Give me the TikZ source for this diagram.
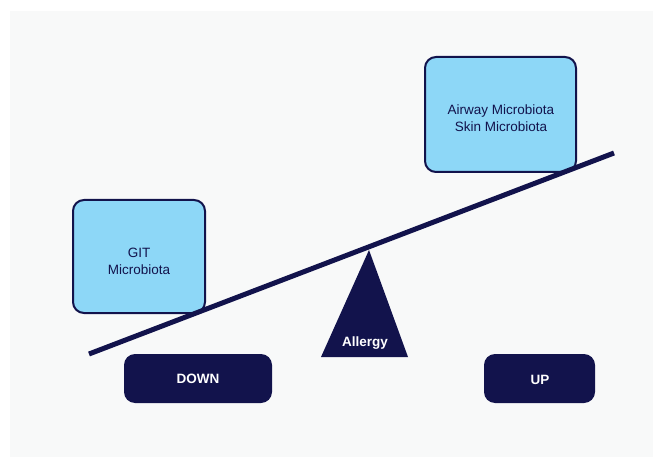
\documentclass[tikz,border=0pt]{standalone}
\usepackage{fontspec}
\setmainfont{Liberation Sans}
\definecolor{navy}{HTML}{12134C}
\definecolor{skyb}{HTML}{8DD7F7}
\definecolor{bg}{HTML}{F8F9F9}
\begin{document}
\begin{tikzpicture}[x=1pt,y=-1pt,
  microbox/.style={draw=navy,line width=2pt,fill=skyb,rounded corners=11pt,text=navy,align=center,font=\fontsize{13.5}{17}\selectfont},
  levelbox/.style={fill=navy,rounded corners=11pt,text=white,font=\bfseries\fontsize{13.5}{16}\selectfont},
  beam/.style={draw=navy,line width=5pt}]
\useasboundingbox (0,0) rectangle (653,457);
\fill[bg] (10,11) rectangle (653,457);
% boxes
\draw[microbox] (73,200) rectangle (205,313);
\node[text=navy,align=center,font=\fontsize{13.5}{17}\selectfont] (git) at (139,261) {GIT\\Microbiota};
\draw[microbox] (425,57) rectangle (576,172);
\node[text=navy,align=center,font=\fontsize{13.5}{17}\selectfont] (air) at (501,118) {Airway Microbiota\\Skin Microbiota};
% fulcrum
\coordinate (apex) at (369,250);
\coordinate (bl) at (321,357);
\coordinate (br) at (408,357);
\fill[navy] (apex) -- (bl) -- (br) -- cycle;
\node[text=white,font=\bfseries\fontsize{13.5}{16}\selectfont] (allergy) at (365,343) {Allergy};
% beam
\coordinate (beamL) at (89,354);
\coordinate (beamR) at (614,153);
\draw[beam] (beamL) -- (beamR);
% level boxes
\fill[navy,rounded corners=11pt] (124,354) rectangle (272,403);
\node[text=white,font=\bfseries\fontsize{13.5}{16}\selectfont] (down) at (198,379) {DOWN};
\fill[navy,rounded corners=11pt] (484,354) rectangle (595,403);
\node[text=white,font=\bfseries\fontsize{13.5}{16}\selectfont] (up) at (540,380) {UP};
\end{tikzpicture}
\end{document}
